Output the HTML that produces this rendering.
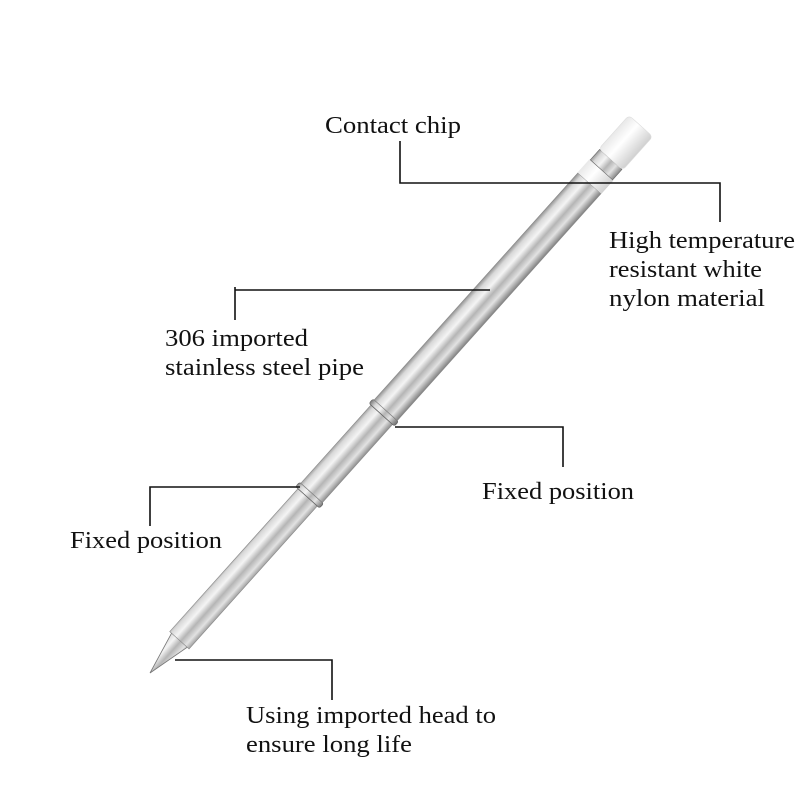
<!DOCTYPE html>
<html><head><meta charset="utf-8"><style>
html,body{margin:0;padding:0;background:#fff;}
svg{display:block;}
text{font-family:"Liberation Serif",serif;font-size:24px;fill:#111;}
</style></head><body>
<svg width="800" height="800" viewBox="0 0 800 800">
<defs>
<linearGradient id="steel" x1="0" y1="-16" x2="0" y2="16" gradientUnits="userSpaceOnUse">
<stop offset="0" stop-color="#8a8a8a"/>
<stop offset="0.15" stop-color="#d8d8d8"/>
<stop offset="0.35" stop-color="#f4f4f4"/>
<stop offset="0.55" stop-color="#b5b5b5"/>
<stop offset="0.75" stop-color="#e2e2e2"/>
<stop offset="1" stop-color="#7a7a7a"/>
</linearGradient>
<linearGradient id="white" x1="0" y1="-16" x2="0" y2="16" gradientUnits="userSpaceOnUse">
<stop offset="0" stop-color="#e8e8e8"/>
<stop offset="0.4" stop-color="#ffffff"/>
<stop offset="1" stop-color="#d0d0d0"/>
</linearGradient>
</defs>
<g transform="translate(150,673) rotate(-48.1)">
<polygon points="0,0 46,-11 46,11" fill="url(#steel)" stroke="#777" stroke-width="0.8"/>
<rect x="44" y="-13" width="192" height="26" fill="url(#steel)" stroke="#888" stroke-width="0.6"/>
<rect x="236" y="-16" width="6" height="32" rx="2" fill="url(#steel)" stroke="#666" stroke-width="0.8"/>
<rect x="242" y="-14.5" width="105" height="29" fill="url(#steel)" stroke="#888" stroke-width="0.6"/>
<rect x="347" y="-17" width="6" height="34" rx="2" fill="url(#steel)" stroke="#666" stroke-width="0.8"/>
<rect x="353" y="-15.5" width="305" height="31" fill="url(#steel)" stroke="#888" stroke-width="0.6"/>
<rect x="658" y="-16" width="18" height="32" fill="url(#white)"/>
<rect x="676" y="-15" width="14" height="30" fill="url(#steel)" stroke="#666" stroke-width="0.6"/>
<rect x="690" y="-16" width="45" height="32" rx="4" fill="url(#white)" stroke="#ddd" stroke-width="0.6"/>
</g>
<g stroke="#111" stroke-width="1.6" fill="none">
<polyline points="400,141 400,183 720,183 720,222"/>
<polyline points="235,287 235,320"/>
<polyline points="235,290 490,290"/>
<polyline points="395,427 563,427 563,467"/>
<polyline points="300,487 150,487 150,526"/>
<polyline points="175,660 332,660 332,700"/>
</g>
<text x="325" y="133" textLength="136" lengthAdjust="spacingAndGlyphs">Contact chip</text>
<text x="609" y="248" textLength="186" lengthAdjust="spacingAndGlyphs">High temperature</text>
<text x="609" y="277" textLength="153" lengthAdjust="spacingAndGlyphs">resistant white</text>
<text x="609" y="306" textLength="156" lengthAdjust="spacingAndGlyphs">nylon material</text>
<text x="165" y="346" textLength="143" lengthAdjust="spacingAndGlyphs">306 imported</text>
<text x="165" y="375" textLength="199" lengthAdjust="spacingAndGlyphs">stainless steel pipe</text>
<text x="482" y="499" textLength="152" lengthAdjust="spacingAndGlyphs">Fixed position</text>
<text x="70" y="548" textLength="152" lengthAdjust="spacingAndGlyphs">Fixed position</text>
<text x="246" y="723" textLength="250" lengthAdjust="spacingAndGlyphs">Using imported head to</text>
<text x="246" y="752" textLength="166" lengthAdjust="spacingAndGlyphs">ensure long life</text>
</svg>
</body></html>
